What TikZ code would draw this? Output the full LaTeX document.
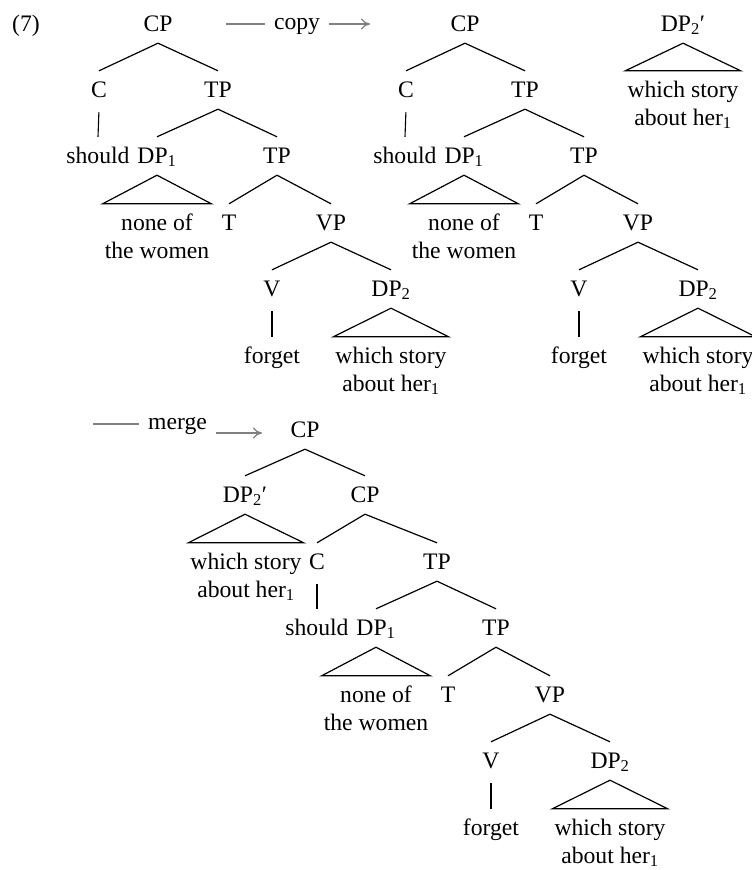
\documentclass[tikz,border=0pt]{standalone}
\usepackage{fontspec}
\setmainfont{Liberation Serif}
\usetikzlibrary{arrows.meta}
\definecolor{arrowgray}{RGB}{128,128,128}
% two centred lines whose baseline is that of the first line
\newcommand\stacklines[2]{\vtop{\halign{\hfil##\hfil\cr#1\cr#2\cr}}}
\newcommand\idx[1]{\textsubscript{#1}}
\tikzset{
  cat/.style={anchor=base, inner sep=0pt, text height=26pt, text depth=12pt},
  word/.style={anchor=base, inner sep=0pt, text height=26pt},
  leaf/.style={anchor=base, inner xsep=2pt, inner ysep=0pt, text height=26pt},
  branch/.style={line width=1.2pt},
  unary/.style={line width=1.1pt, shorten <=3pt},
  roof/.style={line width=1.2pt, line join=miter},
  stepline/.style={draw=arrowgray, line width=1.2pt},
  steparrow/.style={draw=arrowgray, line width=1.2pt, -{To[length=9pt,width=11pt]}},
  steplabel/.style={anchor=base, inner ysep=0pt, inner xsep=9pt},
}
% TP: subject DP1, T and VP with object DP2
\newcommand\tpsubtree{%
  \node[cat] (TP) at (218,97) {TP};
  \node[cat] (DP1) at (157,163) {DP\idx{1}};
  \node[cat] (TP2) at (277,163) {TP};
  \node[leaf] (none) at (157,230) {\stacklines{none of}{the women}};
  \node[cat] (T) at (229,230) {T};
  \node[cat] (VP) at (331,230) {VP};
  \node[cat] (V) at (272,296) {V};
  \node[cat] (DP2) at (391,296) {DP\idx{2}};
  \node[word] (forget) at (272,363) {forget};
  \node[leaf] (which) at (391,363) {\stacklines{which story}{about her\idx{1}}};
  \draw[branch] (TP.south) -- (DP1.north);
  \draw[branch] (TP.south) -- (TP2.north);
  \draw[roof] (DP1.south) -- (none.north west) -- (none.north east) -- cycle;
  \draw[branch] (TP2.south) -- (T.north);
  \draw[branch] (TP2.south) -- (VP.north);
  \draw[branch] (VP.south) -- (V.north);
  \draw[branch] (VP.south) -- (DP2.north);
  \draw[unary] (V.south) -- (forget.north);
  \draw[roof] (DP2.south) -- (which.north west) -- (which.north east) -- cycle;
}
% CP: C should over the TP
\newcommand\cpsubtree{%
  \node[cat] (CP) at (158,31) {CP};
  \node[cat] (C) at (99,97) {C};
  \node[word] (should) at (98,163) {should};
  \tpsubtree
  \draw[branch] (CP.south) -- (C.north);
  \draw[branch] (CP.south) -- (TP.north);
  \draw[unary] (C.south) -- (should.north);
}
\begin{document}
\begin{tikzpicture}[x=1pt, y=-1pt, font=\fontsize{23.65}{28}\selectfont]
\useasboundingbox (0,0) rectangle (752,870);

\node[anchor=base, inner sep=0pt] (exno) at (26,31) {(7)};

% the starting tree
\begin{scope}[name prefix=a-]
  \cpsubtree
\end{scope}

% copy step
\node[steplabel] (copy) at (297,29.5) {copy};
\coordinate (copyfrom) at (226,24);
\coordinate (copyto) at (370,24);
\draw[stepline] (copyfrom) -- (copyfrom -| copy.west);
\draw[steparrow] (copyto -| copy.east) -- (copyto);

% the tree after copying, with the separate copy DP2'
\begin{scope}[name prefix=b-, shift={(307,0)}]
  \cpsubtree
\end{scope}
\node[cat] (b-DPc) at (683,31) {DP\idx{2}′};
\node[leaf] (b-whichc) at (683,97) {\stacklines{which story}{about her\idx{1}}};
\draw[roof] (b-DPc.south) -- (b-whichc.north west) -- (b-whichc.north east) -- cycle;

% merge step
\node[steplabel] (merge) at (177.5,429) {merge};
\coordinate (mergefrom) at (93,424);
\coordinate (mergeto) at (262,433);
\draw[stepline] (mergefrom) -- (mergefrom -| merge.west);
\draw[steparrow] (mergeto -| merge.east) -- (mergeto);

% the tree after merging
\begin{scope}[yshift=3pt]
\node[cat] (c-CP) at (305,440) {CP};
\node[cat] (c-DPc) at (245,505) {DP\idx{2}′};
\node[cat] (c-CPb) at (365,505) {CP};
\node[leaf] (c-whichc) at (246,572) {\stacklines{which story}{about her\idx{1}}};
\node[cat] (c-C) at (317,572) {C};
\node[word] (c-should) at (317,638) {should};
\begin{scope}[name prefix=c-, shift={(219,475)}]
  \tpsubtree
\end{scope}
\draw[branch] (c-CP.south) -- (c-DPc.north);
\draw[branch] (c-CP.south) -- (c-CPb.north);
\draw[roof] (c-DPc.south) -- (c-whichc.north west) -- (c-whichc.north east) -- cycle;
\draw[branch] (c-CPb.south) -- (c-C.north);
\draw[branch] (c-CPb.south) -- (c-TP.north);
\draw[unary] (c-C.south) -- (c-should.north);
\end{scope}
\end{tikzpicture}
\end{document}
